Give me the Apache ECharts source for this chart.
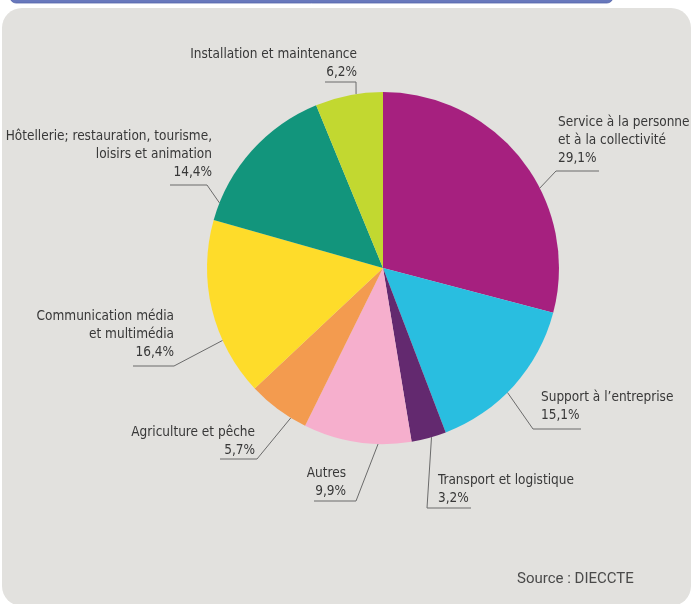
<!DOCTYPE html>
<html>
<head>
<meta charset="utf-8">
<script src="https://cdn.jsdelivr.net/npm/echarts@6/dist/echarts.min.js"></script>
<style>
  html, body { margin: 0; padding: 0; background: #ffffff; }
  #chart { width: 691px; height: 604px; }
</style>
</head>
<body>
<div id="chart"></div>
<script>
// Secteurs d'activité (part en %)
const categories = [
  'Service à la personne\net à la collectivité',
  'Support à l’entreprise',
  'Transport et logistique',
  'Autres',
  'Agriculture et pêche',
  'Communication média\net multimédia',
  'Hôtellerie; restauration, tourisme,\nloisirs et animation',
  'Installation et maintenance'
];
const shares = [29.1, 15.1, 3.2, 9.9, 5.7, 16.4, 14.4, 6.2];
const sliceColors = ['#a6207f', '#29bee0', '#63296f', '#f6afcd', '#f39b4f', '#fedc2a', '#12957c', '#c2d830'];
const sourceText = 'Source : DIECCTE';

// Pie geometry
const CX = 383, CY = 268, R = 176;

// Label placement: text anchor, last baseline, underline and the angle where the leader meets the pie
const labelSpots = [
  { x: 558, base: 163, align: 'left',  lineY: 171, near: 556, far: 599, deg: 63 },
  { x: 541, base: 420, align: 'left',  lineY: 429, near: 533, far: 581, deg: 135 },
  { x: 438, base: 503, align: 'left',  lineY: 508, near: 427, far: 471, deg: 164 },
  { x: 346, base: 496, align: 'right', lineY: 501, near: 356, far: 314, deg: 181.6 },
  { x: 255, base: 455, align: 'right', lineY: 459, near: 257, far: 220, deg: 211.6 },
  { x: 174, base: 357, align: 'right', lineY: 366, near: 174, far: 133, deg: 245.7 },
  { x: 212, base: 177, align: 'right', lineY: 185, near: 207, far: 170, deg: 291.7 },
  { x: 357, base: 77,  align: 'right', lineY: 82,  near: 356, far: 325, deg: 351.2 }
];

const FONT = "'Liberation Sans Narrow', 'DejaVu Sans Condensed', 'Arial Narrow', sans-serif";
const FONT_SIZE = 13.5;
const LINE_H = 18;

const fmtPct = v => v.toFixed(1).replace('.', ',') + '%';

const chart = echarts.init(document.getElementById('chart'), null, { renderer: 'canvas' });

chart.setOption({
  animation: false,
  backgroundColor: 'transparent',
  graphic: [
    {
      type: 'rect', z: -10, silent: true,
      shape: { x: 10, y: -12, width: 603, height: 15, r: 6 },
      style: { fill: '#6878bc', stroke: '#5565aa', lineWidth: 0.8 }
    },
    {
      type: 'rect', z: -10, silent: true,
      shape: { x: 2, y: 8, width: 689, height: 598, r: 20 },
      style: { fill: '#e2e1de' }
    },
    {
      type: 'text', silent: true,
      left: 517, top: 572,
      style: { text: sourceText, fill: '#4a4a4a', font: "15px Roboto, 'Noto Sans', sans-serif" }
    }
  ],
  series: [
    {
      type: 'pie',
      center: [CX, CY],
      radius: R,
      startAngle: 90,
      clockwise: true,
      avoidLabelOverlap: false,
      silent: true,
      data: categories.map((name, i) => ({
        name: name,
        value: shares[i],
        itemStyle: { color: sliceColors[i] }
      })),
      itemStyle: { borderWidth: 0 },
      label: {
        show: true,
        position: 'outside',
        formatter: p => p.name + '\n' + fmtPct(p.value),
        color: '#383838',
        fontFamily: FONT,
        fontSize: FONT_SIZE,
        lineHeight: LINE_H
      },
      labelLine: {
        show: true,
        length: 10,
        length2: 10,
        lineStyle: { color: '#6b6b6b', width: 1 }
      },
      labelLayout: function (params) {
        const s = labelSpots[params.dataIndex];
        const a = s.deg * Math.PI / 180;
        const ex = CX + R * Math.sin(a);
        const ey = CY - R * Math.cos(a);
        return {
          x: s.x,
          y: s.base + 4.3,
          align: s.align,
          verticalAlign: 'bottom',
          labelLinePoints: [[ex, ey], [s.near, s.lineY], [s.far, s.lineY]]
        };
      }
    }
  ]
});
</script>
</body>
</html>
